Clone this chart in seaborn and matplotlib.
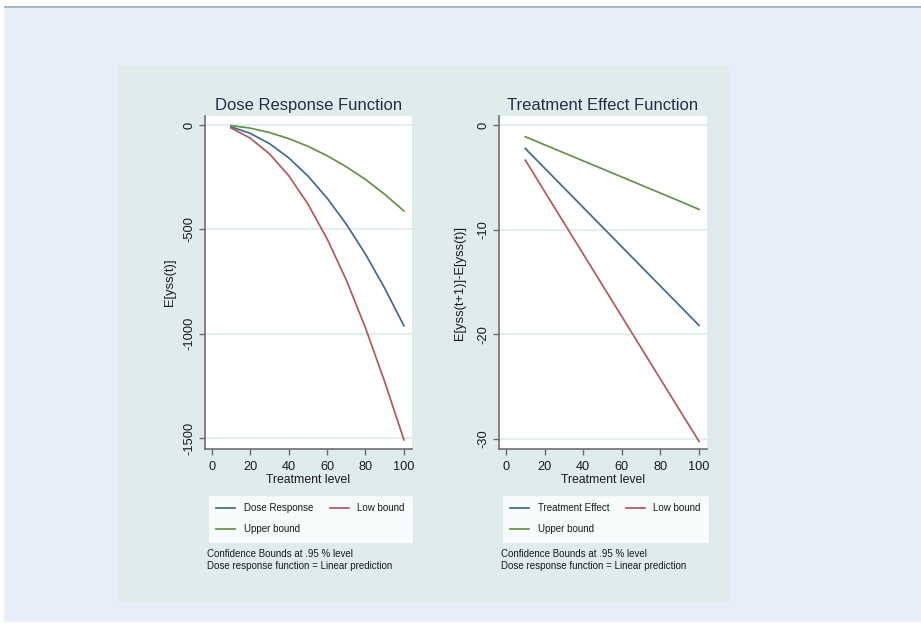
import matplotlib
matplotlib.use("Agg")
import matplotlib.pyplot as plt
import seaborn as sns
import pandas as pd
from matplotlib import font_manager
from matplotlib.patches import Rectangle

# ---------------- data ----------------
treatment = [10, 20, 30, 40, 50, 60, 70, 80, 90, 100]

dose_response = [-9, -40, -89, -157, -244, -350, -475, -619, -782, -962]
dose_low = [-14, -63, -138, -242, -378, -545, -742, -972, -1230, -1508]
dose_upper = [-3, -15, -36, -65, -102, -147, -200, -261, -332, -412]

te_effect = [-2.24, -4.12, -6.00, -7.88, -9.76, -11.64, -13.52, -15.40, -17.28, -19.16]
te_low = [-3.36, -6.35, -9.34, -12.33, -15.32, -18.31, -21.30, -24.29, -27.28, -30.25]
te_upper = [-1.12, -1.89, -2.66, -3.43, -4.20, -4.97, -5.74, -6.51, -7.28, -8.07]

x_ticks = [0, 20, 40, 60, 80, 100]
left_yticks = [0, -500, -1000, -1500]
right_yticks = [0, -10, -20, -30]

left_names = ["Dose Response", "Low bound", "Upper bound"]
right_names = ["Treatment Effect", "Low bound", "Upper bound"]
titles = ["Dose Response Function", "Treatment Effect Function"]
ylabels = ["E[yss(t)]", "E[yss(t+1)]-E[yss(t)]"]
xlabel = "Treatment level"
notes = ["Confidence Bounds at .95 % level",
         "Dose response function = Linear prediction"]

colors = ["#44698f", "#b2585e", "#67904b"]

# ---------------- fonts ----------------
names = {f.name for f in font_manager.fontManager.ttflist}
if "Liberation Sans Narrow" in names:
    HF, k = "Liberation Sans Narrow", 1.19
else:
    HF, k = "Liberation Sans", 1.0
VF = "Liberation Sans"

W, H = 921, 629
fig = plt.figure(figsize=(W / 100, H / 100), dpi=100)
fig.patch.set_facecolor("white")


def rect(x0, y0, x1, y1, color, z=0):
    fig.patches.append(Rectangle((x0 / W, 1 - y1 / H), (x1 - x0) / W, (y1 - y0) / H,
                                 transform=fig.transFigure, facecolor=color,
                                 edgecolor="none", zorder=z))


rect(4, 8, 921, 622, "#e7eef7", -3)
rect(4, 5.5, 921, 8, "#a3b5c7", -2)
rect(118, 66, 729, 602, "#e0ecec", -1)


def make_panel(box, names_, series, ylim, xlim, yticks, title, ylabel, ylab_x,
               legend_x, note_x):
    x0, y0, x1, y1 = box
    ax = fig.add_axes([x0 / W, 1 - y1 / H, (x1 - x0) / W, (y1 - y0) / H])
    ax.set_facecolor("white")
    frames = []
    for n, vals in zip(names_, series):
        frames.append(pd.DataFrame({"t": treatment, "value": vals, "series": n}))
    df = pd.concat(frames, ignore_index=True)
    sns.lineplot(data=df, x="t", y="value", hue="series", hue_order=names_,
                 palette=colors, ax=ax, legend=False, linewidth=1.25)
    ax.set_xlim(*xlim)
    ax.set_ylim(*ylim)
    ax.set_xticks(x_ticks)
    ax.set_xticklabels([str(v) for v in x_ticks], fontfamily=HF, fontsize=9.2 * k)
    ax.set_yticks(yticks)
    ax.set_yticklabels([str(v) for v in yticks], fontfamily=VF, fontsize=9.3,
                       rotation=90, va="center")
    ax.tick_params(axis="both", length=4, width=1.0, color="#6a6a6a",
                   labelcolor="#1a1a1a")
    ax.tick_params(axis="x", pad=4.5)
    ax.tick_params(axis="y", pad=3)
    ax.yaxis.grid(True, color="#e2eded", linewidth=1.4)
    ax.xaxis.grid(False)
    ax.set_axisbelow(True)
    for s in ["top", "right"]:
        ax.spines[s].set_visible(False)
    for s in ["left", "bottom"]:
        ax.spines[s].set_color("#6e6e6e")
        ax.spines[s].set_linewidth(1.2)
    ax.set_title(title, fontfamily=HF, fontsize=12.0 * k, color="#1e3048", pad=4.5)
    ax.set_xlabel(xlabel, fontfamily=HF, fontsize=8.8 * k, color="#1a1a1a", labelpad=1.0)
    ax.set_ylabel(ylabel, fontfamily=VF, fontsize=9.3, color="#1a1a1a")
    ax.yaxis.set_label_coords(ylab_x, 0.5)

    lines = ax.get_lines()[:3]
    # Stata fills legend row-wise: order handles so columns read DR/Upper, Low
    handles = [lines[0], lines[2], lines[1]]
    labels = [names_[0], names_[2], names_[1]]
    leg = fig.legend(handles, labels, loc="upper left",
                     bbox_to_anchor=(legend_x / W, 1 - 496 / H), ncol=2,
                     frameon=True, fancybox=False, borderaxespad=0,
                     prop={"family": HF, "size": 7.0 * k},
                     handlelength=1.95, handletextpad=0.85, columnspacing=1.75,
                     borderpad=0.75, labelspacing=1.15)
    leg.get_frame().set_facecolor("white")
    leg.get_frame().set_edgecolor("white")
    leg.get_frame().set_linewidth(0.5)
    for t in leg.get_texts():
        t.set_color("#1a1a1a")
    fig.text(note_x / W, 1 - 554 / H, notes[0], fontfamily=HF, fontsize=7.0 * k,
             color="#1a1a1a", va="center", ha="left")
    fig.text(note_x / W, 1 - 566 / H, notes[1], fontfamily=HF, fontsize=7.0 * k,
             color="#1a1a1a", va="center", ha="left")
    return ax


make_panel((205, 116, 412, 449), left_names, [dose_response, dose_low, dose_upper],
           (-1552, 43), (-3.5, 104.2), left_yticks, titles[0], ylabels[0], -0.14,
           209, 207)
make_panel((499, 116, 707, 449), right_names, [te_effect, te_low, te_upper],
           (-30.97, 0.86), (-3.6, 104.1), right_yticks, titles[1], ylabels[1], -0.16,
           503, 501)

fig.savefig("out.png", dpi=100, facecolor=fig.get_facecolor())
